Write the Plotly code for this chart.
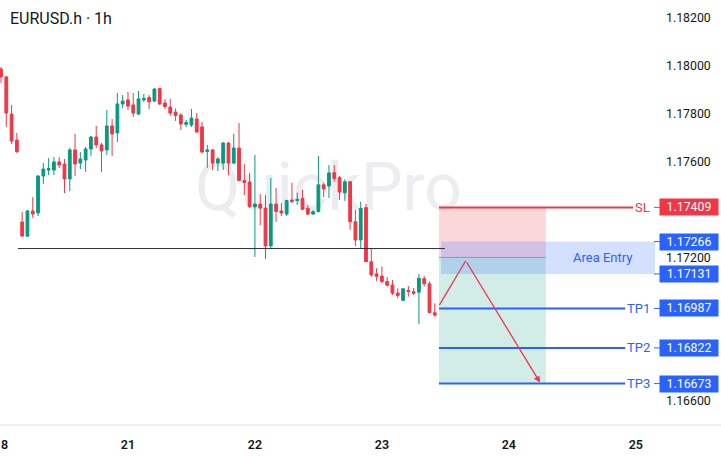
import plotly.graph_objects as go

# ---------------- data ----------------
title_text = "EURUSD.h · 1h"
day_labels = ["18", "21", "22", "23", "24", "25"]
hours_per_day = 24

opens = [1.17987, 1.17954, 1.17799, 1.17690, 1.17348, 1.17289, 1.17394, 1.17386, 1.17540, 1.17565,
         1.17565, 1.17599, 1.17590, 1.17528, 1.17649, 1.17594, 1.17607, 1.17653, 1.17703, 1.17670,
         1.17649, 1.17749, 1.17720, 1.17841, 1.17858, 1.17837, 1.17799, 1.17858, 1.17868, 1.17853,
         1.17906, 1.17845, 1.17828, 1.17807, 1.17795, 1.17756, 1.17753, 1.17778, 1.17745, 1.17642,
         1.17649, 1.17594, 1.17594, 1.17678, 1.17594, 1.17657, 1.17521, 1.17515, 1.17411, 1.17423,
         1.17406, 1.17248, 1.17423, 1.17394, 1.17381, 1.17440, 1.17437, 1.17446, 1.17405, 1.17381,
         1.17391, 1.17503, 1.17498, 1.17554, 1.17534, 1.17470, 1.17516, 1.17349, 1.17273, 1.17408,
         1.17182, 1.17131, 1.17122, 1.17099, 1.17085, 1.17051, 1.17021, 1.17062, 1.17057, 1.17055,
         1.17111, 1.17090, 1.16969]
highs = [1.17995, 1.17958, 1.17837, 1.17720, 1.17390, 1.17398, 1.17452, 1.17544, 1.17594, 1.17615,
         1.17619, 1.17619, 1.17611, 1.17657, 1.17716, 1.17640, 1.17661, 1.17707, 1.17749, 1.17678,
         1.17816, 1.17778, 1.17887, 1.17878, 1.17891, 1.17887, 1.17895, 1.17883, 1.17878, 1.17908,
         1.17908, 1.17862, 1.17862, 1.17822, 1.17803, 1.17774, 1.17820, 1.17803, 1.17766, 1.17670,
         1.17653, 1.17619, 1.17682, 1.17682, 1.17716, 1.17761, 1.17590, 1.17553, 1.17628, 1.17465,
         1.17461, 1.17532, 1.17490, 1.17427, 1.17440, 1.17512, 1.17470, 1.17482, 1.17419, 1.17398,
         1.17624, 1.17512, 1.17586, 1.17586, 1.17540, 1.17526, 1.17519, 1.17398, 1.17433, 1.17423,
         1.17238, 1.17155, 1.17162, 1.17118, 1.17106, 1.17071, 1.17071, 1.17081, 1.17072, 1.17131,
         1.17123, 1.17099, 1.17008]
lows = [1.17929, 1.17745, 1.17674, 1.17636, 1.17287, 1.17285, 1.17365, 1.17373, 1.17507, 1.17544,
        1.17544, 1.17573, 1.17469, 1.17477, 1.17540, 1.17569, 1.17557, 1.17624, 1.17657, 1.17557,
        1.17628, 1.17624, 1.17682, 1.17824, 1.17816, 1.17787, 1.17795, 1.17849, 1.17820, 1.17849,
        1.17837, 1.17820, 1.17791, 1.17770, 1.17732, 1.17745, 1.17745, 1.17720, 1.17636, 1.17574,
        1.17565, 1.17561, 1.17565, 1.17544, 1.17590, 1.17519, 1.17461, 1.17406, 1.17202, 1.17335,
        1.17193, 1.17235, 1.17348, 1.17373, 1.17373, 1.17427, 1.17419, 1.17398, 1.17377, 1.17379,
        1.17390, 1.17452, 1.17448, 1.17516, 1.17440, 1.17436, 1.17315, 1.17248, 1.17238, 1.17181,
        1.17119, 1.17102, 1.17092, 1.17078, 1.17043, 1.17029, 1.17019, 1.17036, 1.17043, 1.16922,
        1.17078, 1.16967, 1.16952]
closes = [1.17954, 1.17803, 1.17686, 1.17642, 1.17289, 1.17394, 1.17381, 1.17540, 1.17569, 1.17571,
          1.17599, 1.17586, 1.17528, 1.17649, 1.17590, 1.17611, 1.17653, 1.17703, 1.17670, 1.17645,
          1.17749, 1.17716, 1.17841, 1.17853, 1.17832, 1.17803, 1.17862, 1.17864, 1.17850, 1.17903,
          1.17841, 1.17830, 1.17803, 1.17793, 1.17757, 1.17763, 1.17782, 1.17724, 1.17640, 1.17649,
          1.17594, 1.17611, 1.17678, 1.17594, 1.17657, 1.17521, 1.17513, 1.17413, 1.17423, 1.17406,
          1.17248, 1.17423, 1.17392, 1.17386, 1.17438, 1.17433, 1.17443, 1.17401, 1.17381, 1.17391,
          1.17503, 1.17486, 1.17553, 1.17530, 1.17473, 1.17516, 1.17349, 1.17273, 1.17405, 1.17182,
          1.17127, 1.17121, 1.17099, 1.17084, 1.17051, 1.17041, 1.17069, 1.17058, 1.17050, 1.17113,
          1.17090, 1.16970, 1.16959]
hours = list(range(len(opens)))

# price levels of the trade setup
sl_level = 1.17409
entry_high = 1.17266
entry_mid = 1.17200
entry_low = 1.17131
tp_levels = [1.16987, 1.16822, 1.16673]
tp_names = ["TP1", "TP2", "TP3"]
support_level = 1.17237

# visible axis tick values (others are hidden behind the level labels)
price_ticks = [1.16600, 1.17200, 1.17600, 1.17800, 1.18000, 1.18200]

# projected path (hour, price)
path_hours = [82.86, 87.85, 101.9]
path_prices = [1.17001, 1.17186, 1.16677]

# ---------------- styling ----------------
RED = "#f23645"
GREEN = "#089981"
BLUE = "#2962ff"
TXT = "#131722"
FONT = "Roboto"

W, H = 721, 456
ML, MR, MT, MB = 0, 66, 0, 31
PW = W - ML - MR
PH = H - MT - MB

x_range = [-0.19, 123.63]
y_range = [1.16500, 1.182752]

box_x0, box_x1 = 82.8, 103.0
band_x0 = 83.2
sl_end = 119.5
tp_end = 118.0
support_x0, support_x1 = 3.2, 83.9


def px_x(px):
    return px / PW


fig = go.Figure()

fig.add_trace(go.Candlestick(
    x=hours, open=opens, high=highs, low=lows, close=closes,
    increasing=dict(line=dict(color=GREEN, width=1), fillcolor=GREEN),
    decreasing=dict(line=dict(color=RED, width=1), fillcolor=RED),
    whiskerwidth=0, showlegend=False, hoverinfo="skip",
))

shapes = []
# watermark
shapes.append(dict(type="rect", xref="paper", yref="paper",
                   x0=px_x(195), x1=px_x(462), y0=1 - 215 / PH, y1=1 - 150 / PH,
                   line=dict(width=0), fillcolor="rgba(0,0,0,0)", layer="below",
                   label=dict(text="QuickPro", textposition="middle center",
                              font=dict(size=66, color="#ededf1", family=FONT))))
# position boxes
shapes.append(dict(type="rect", x0=box_x0, x1=box_x1, y0=entry_mid, y1=sl_level,
                   fillcolor="rgba(242,54,69,0.2)", line=dict(width=0), layer="above"))
shapes.append(dict(type="rect", x0=box_x0, x1=box_x1, y0=tp_levels[-1], y1=entry_mid,
                   fillcolor="rgba(8,153,129,0.18)", line=dict(width=0), layer="above"))
# entry band
shapes.append(dict(type="rect", x0=band_x0, x1=x_range[1], y0=entry_low, y1=entry_high,
                   fillcolor="rgba(41,98,255,0.2)", line=dict(width=0), layer="above"))
# entry divider
shapes.append(dict(type="line", x0=box_x0, x1=box_x1, y0=entry_mid, y1=entry_mid,
                   line=dict(color="#9598a1", width=1)))
# support line
shapes.append(dict(type="line", x0=support_x0, x1=support_x1, y0=support_level, y1=support_level,
                   line=dict(color="#2a2e39", width=1)))
# SL line
shapes.append(dict(type="line", x0=box_x0, x1=sl_end, y0=sl_level, y1=sl_level,
                   line=dict(color=RED, width=2)))
# TP lines
for lv in tp_levels:
    shapes.append(dict(type="line", x0=box_x0, x1=tp_end, y0=lv, y1=lv,
                       line=dict(color=BLUE, width=2)))
# path first leg
shapes.append(dict(type="line", x0=path_hours[0], x1=path_hours[1],
                   y0=path_prices[0], y1=path_prices[1],
                   line=dict(color=RED, width=1.3)))
# bottom separator
shapes.append(dict(type="line", xref="paper", yref="paper", x0=0, x1=W / PW, y0=0, y1=0,
                   line=dict(color="#e0e3eb", width=1)))
# small tick marks next to price labels
label_items = [(sl_level, RED), (entry_high, BLUE), (entry_low, BLUE)] + [(t, BLUE) for t in tp_levels]
for lv, col in label_items:
    shapes.append(dict(type="line", xref="paper", yref="y", x0=px_x(654), x1=px_x(660),
                       y0=lv, y1=lv, line=dict(color=col, width=1)))

annotations = []
annotations.append(dict(text=title_text, xref="paper", yref="paper", x=px_x(8), y=1 - 19 / PH,
                        xanchor="left", yanchor="middle", showarrow=False,
                        font=dict(size=16, color=TXT, family=FONT)))
# arrow second leg
annotations.append(dict(x=path_hours[2], y=path_prices[2], ax=path_hours[1], ay=path_prices[1],
                        xref="x", yref="y", axref="x", ayref="y", text="", showarrow=True,
                        arrowhead=2, arrowsize=1, arrowwidth=1.3, arrowcolor=RED))
# Area Entry text
annotations.append(dict(text="Area Entry", xref="paper", yref="y", x=px_x(602), y=entry_mid,
                        xanchor="center", yanchor="middle",
                        showarrow=False, font=dict(size=13, color=BLUE, family=FONT)))
# SL / TP names
annotations.append(dict(text="SL", xref="paper", yref="y", x=px_x(652), y=sl_level,
                        xanchor="right", showarrow=False, font=dict(size=13, color=RED, family=FONT)))
for lv, nm in zip(tp_levels, tp_names):
    annotations.append(dict(text=nm, xref="paper", yref="y", x=px_x(652), y=lv,
                            xanchor="right", showarrow=False,
                            font=dict(size=13, color=BLUE, family=FONT)))
# price boxes
for lv, col in label_items:
    annotations.append(dict(text=f"{lv:.5f}", xref="paper", yref="y", x=px_x(659), y=lv,
                            xanchor="left", yanchor="middle", showarrow=False,
                            bgcolor=col, width=58, height=16, borderpad=0,
                            font=dict(size=12.3, color="white", family=FONT)))

fig.update_layout(
    width=W, height=H,
    margin=dict(l=ML, r=MR, t=MT, b=MB, autoexpand=False),
    paper_bgcolor="white", plot_bgcolor="white",
    showlegend=False, boxgap=0.25,
    shapes=shapes, annotations=annotations,
    font=dict(family=FONT, color=TXT),
    xaxis=dict(range=x_range, rangeslider=dict(visible=False), showgrid=False, zeroline=False,
               automargin=False, ticklabeloverflow="allow",
               tickvals=[i * hours_per_day for i in range(len(day_labels))], ticktext=day_labels,
               ticks="", ticklabelstandoff=10,
               tickfont=dict(size=12.5, color=TXT, family=FONT, weight=600)),
    yaxis=dict(range=y_range, side="right", showgrid=False, zeroline=False, automargin=False,
               tickvals=price_ticks, ticktext=[f"{v:.5f}" for v in price_ticks],
               ticks="", ticklabelstandoff=10,
               tickfont=dict(size=12.3, color=TXT, family=FONT)),
)

fig.write_html("out.html", config={"displayModeBar": False},
               post_script="document.body.style.margin='0';document.body.style.overflow='hidden';")
